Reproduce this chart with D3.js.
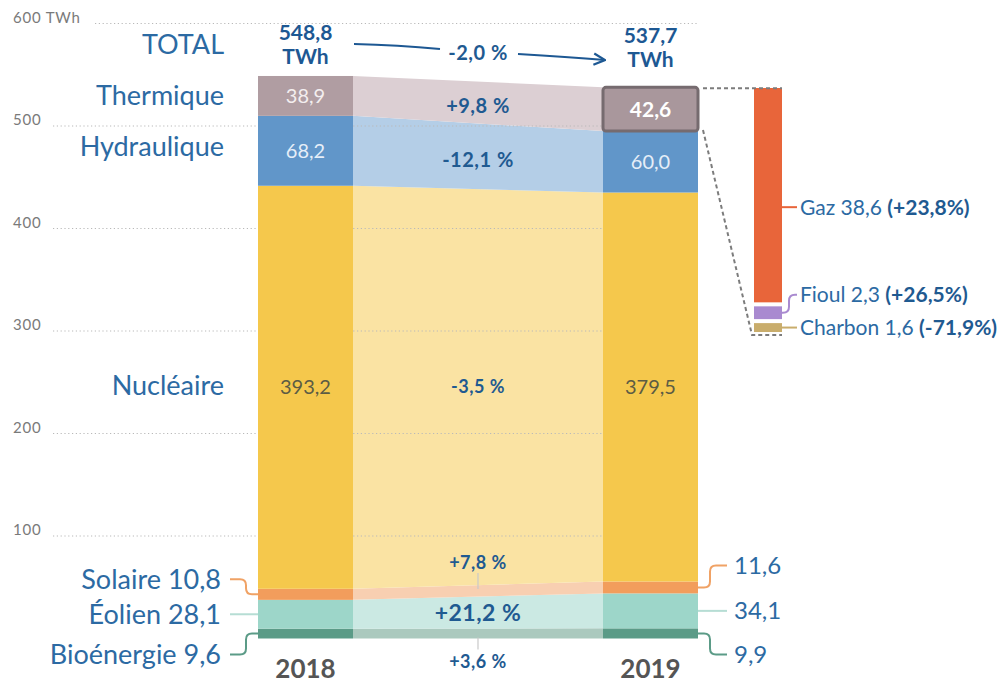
<!DOCTYPE html>
<html>
<head>
<meta charset="utf-8">
<script src="https://d3js.org/d3.v7.min.js"></script>
<style>
body { margin: 0; background: #fff; }
svg { font-family: Lato, "Open Sans", sans-serif; }
.grid line { stroke: #b9b9b9; stroke-width: 1.2; stroke-dasharray: 1.2,2.6; }
.tick-label { fill: #7a7a7a; font-size: 15px; letter-spacing: 0.8px; }
.cat { fill: #2c6aa3; font-size: 27px; }
.pct { fill: #1f5a91; font-weight: bold; font-size: 20px; letter-spacing: 0.5px; }
.tot { fill: #1d5893; font-weight: bold; font-size: 21px; }
.yr { fill: #555; font-weight: bold; font-size: 26px; }
.sub { fill: #2c6aa3; font-size: 21px; }
</style>
</head>
<body>
<svg width="1007" height="685"></svg>
<script>
// data
var years = ["2018", "2019"];
var sources = ["Bioénergie", "Éolien", "Solaire", "Nucléaire", "Hydraulique", "Thermique"];
var values2018 = [9.6, 28.1, 10.8, 393.2, 68.2, 38.9];
var values2019 = [9.9, 34.1, 11.6, 379.5, 60.0, 42.6];
var changes = ["+3,6 %", "+21,2 %", "+7,8 %", "-3,5 %", "-12,1 %", "+9,8 %"];
var totals = [548.8, 537.7];
var totalChange = "-2,0 %";
var yTicks = [100, 200, 300, 400, 500, 600];
var thermalParts = ["Charbon", "Fioul", "Gaz"];
var thermalValues = [1.6, 2.3, 38.6];
var thermalChanges = ["-71,9%", "+26,5%", "+23,8%"];

var barColor = {"Bioénergie": "#5b9b87", "Éolien": "#9dd6c9", "Solaire": "#f29d5c", "Nucléaire": "#f5c84c", "Hydraulique": "#6196c9", "Thermique": "#b09da2"};
var bandColor = {"Bioénergie": "#abc9be", "Éolien": "#cbe9e3", "Solaire": "#f8cfb1", "Nucléaire": "#fae3a3", "Hydraulique": "#b4cee7", "Thermique": "#dccfd3"};
var partColor = {"Gaz": "#e8653a", "Fioul": "#a98ad0", "Charbon": "#c9ad6c"};

var fr = d3.formatLocale({decimal: ",", thousands: "\u00a0", grouping: [3], currency: ["", ""]});
var f1 = fr.format(".1f");

var svg = d3.select("svg");
var y = d3.scaleLinear().domain([0, 600]).range([638.5, 23.5]);
var x = d3.scalePoint().domain(years).range([305.5, 650.5]);
var barW = 95;

var table = years.map(function(yr, i) {
  var o = {year: yr};
  sources.forEach(function(s, j) { o[s] = (i ? values2019 : values2018)[j]; });
  return o;
});
var series = d3.stack().keys(sources)(table);

// bands between the bars
var xa = x("2018") + barW / 2, xb = x("2019") - barW / 2;
var area = d3.area().x(function(d) { return d.x; }).y0(function(d) { return y(d.v[0]); }).y1(function(d) { return y(d.v[1]); });
svg.append("g").selectAll("path").data(series).enter().append("path")
  .attr("d", function(s) { return area([{x: xa, v: s[0]}, {x: xb, v: s[1]}]); })
  .attr("fill", function(s) { return bandColor[s.key]; });

// grid
var grid = svg.append("g").attr("class", "grid");
grid.selectAll("line").data(yTicks).enter().append("line")
  .attr("x1", function(d) { return d == 600 ? 95 : 53; }).attr("x2", 698)
  .attr("y1", function(d) { return y(d); }).attr("y2", function(d) { return y(d); });
svg.append("g").selectAll("text").data(yTicks).enter().append("text")
  .attr("class", "tick-label").attr("x", 13).attr("y", function(d) { return y(d) - 1; })
  .text(function(d) { return d == 600 ? "600 TWh" : d; });

// bars
var bars = svg.append("g");
series.forEach(function(s) {
  bars.selectAll(null).data(s).enter().append("rect")
    .attr("x", function(d) { return x(d.data.year) - barW / 2; })
    .attr("width", barW)
    .attr("y", function(d) { return y(d[1]); })
    .attr("height", function(d) { return y(d[0]) - y(d[1]); })
    .attr("fill", barColor[s.key]);
});
// highlighted thermique 2019
var th = series[5][1];
svg.append("rect")
  .attr("x", x("2019") - barW / 2).attr("width", barW)
  .attr("y", y(th[1])).attr("height", y(th[0]) - y(th[1]))
  .attr("rx", 3).attr("fill", "#a9979c").attr("stroke", "#766b6f").attr("stroke-width", 3);

// values inside bars
var valColor = {"Thermique": "#f3eeef", "Hydraulique": "#e6eef8", "Nucléaire": "#5c5c44"};
["Nucléaire", "Hydraulique", "Thermique"].forEach(function(k) {
  var s = series[sources.indexOf(k)];
  s.forEach(function(d, i) {
    var big = (k == "Thermique" && i == 1);
    svg.append("text")
      .attr("x", x(d.data.year)).attr("y", y((d[0] + d[1]) / 2)).attr("dy", "0.35em")
      .attr("text-anchor", "middle")
      .style("font-size", big ? "21px" : "20px").style("font-weight", big ? "bold" : "normal")
      .style("fill", big ? "#fff" : valColor[k])
      .text(f1(d.data[k]));
  });
});

// band percent labels
var xm = (xa + xb) / 2;
var pctSize = {"Bioénergie": 18, "Éolien": 23, "Solaire": 18, "Nucléaire": 18, "Hydraulique": 20, "Thermique": 20};
var pctOff = {"Bioénergie": 28, "Éolien": 0, "Solaire": -28, "Nucléaire": 0, "Hydraulique": 4, "Thermique": 3};
series.forEach(function(s, j) {
  var m = (y((s[0][0] + s[0][1]) / 2) + y((s[1][0] + s[1][1]) / 2)) / 2;
  var off = pctOff[s.key];
  svg.append("text").attr("class", "pct")
    .attr("x", xm).attr("y", m + off).attr("dy", "0.35em").attr("text-anchor", "middle")
    .style("font-size", pctSize[s.key] + "px").text(changes[j]);
  if (Math.abs(off) > 10) {
    svg.append("line").attr("x1", xm).attr("x2", xm)
      .attr("y1", off < 0 ? m + off + 10 : m + 4).attr("y2", off < 0 ? m - 2 : m + off - 12)
      .attr("stroke", "#c9c9c9").attr("stroke-width", 1.2);
  }
});

// left category labels
function mid(k, i) { var d = series[sources.indexOf(k)][i]; return y((d[0] + d[1]) / 2); }
var leftX = 224;
var catOff = {"Thermique": 0, "Hydraulique": -4, "Nucléaire": -2};
["Thermique", "Hydraulique", "Nucléaire"].forEach(function(k) {
  svg.append("text").attr("class", "cat").attr("x", leftX).attr("y", mid(k, 0) + catOff[k]).attr("dy", "0.35em")
    .attr("text-anchor", "end").text(k);
});
svg.append("text").attr("class", "cat").attr("x", leftX).attr("y", 45).attr("dy", "0.35em")
  .attr("text-anchor", "end").text("TOTAL");

var lowOff = {"Solaire": -15, "Éolien": 0, "Bioénergie": 21};
var leaderCol = {"Solaire": "#f0a265", "Éolien": "#b6ddd4", "Bioénergie": "#5b9b87"};
function leader(x0, y0, x1, y1, xc) {
  if (Math.abs(y1 - y0) < 2) return "M" + x0 + "," + y0 + "H" + x1;
  var s = y1 > y0 ? 1 : -1;
  return "M" + x0 + "," + y0 + "H" + (xc - 6) + "Q" + xc + "," + y0 + " " + xc + "," + (y0 + 6 * s) +
    "V" + (y1 - 6 * s) + "Q" + xc + "," + y1 + " " + (xc + 6) + "," + y1 + "H" + x1;
}
["Solaire", "Éolien", "Bioénergie"].forEach(function(k) {
  var j = sources.indexOf(k);
  var m0 = mid(k, 0), ly = m0 + lowOff[k];
  svg.append("text").attr("class", "cat")
    .attr("x", 221).attr("y", ly).attr("dy", "0.35em").attr("text-anchor", "end")
    .text(k + " " + f1(values2018[j]));
  svg.append("path").attr("d", leader(230, ly, x("2018") - barW / 2, m0, 246))
    .attr("fill", "none").attr("stroke", leaderCol[k]).attr("stroke-width", 2);
  var m1 = mid(k, 1);
  var ry = m1 + (k == "Solaire" ? -22 : k == "Bioénergie" ? 21 : 0);
  svg.append("path").attr("d", leader(x("2019") + barW / 2, m1, 727, ry, 710))
    .attr("fill", "none").attr("stroke", leaderCol[k]).attr("stroke-width", 2);
  svg.append("text").attr("class", "cat").style("font-size", "24px")
    .attr("x", 734).attr("y", ry).attr("dy", "0.35em").text(f1(values2019[j]));
});

// totals
totals.forEach(function(t, i) {
  var yr = years[i];
  var g = svg.append("text").attr("class", "tot").attr("text-anchor", "middle");
  g.append("tspan").attr("x", x(yr)).attr("y", 40 + i * 3).text(f1(t));
  g.append("tspan").attr("x", x(yr)).attr("y", 64 + i * 3).text("TWh");
});
svg.append("defs").append("marker").attr("id", "arr").attr("viewBox", "0 0 10 10")
  .attr("refX", 9).attr("refY", 5).attr("markerWidth", 7).attr("markerHeight", 7).attr("orient", "auto")
  .append("path").attr("d", "M1,1 L9,5 L1,9").attr("fill", "none").attr("stroke", "#1d5893").attr("stroke-width", 1.6);
svg.append("path").attr("d", "M" + (xa + 1) + ",44 Q" + (xa + 45) + ",45 " + (xm - 38) + ",49")
  .attr("fill", "none").attr("stroke", "#1d5893").attr("stroke-width", 2);
svg.append("path").attr("d", "M" + (xm + 40) + ",54 Q" + (xm + 90) + ",57 " + (xb + 2) + ",60")
  .attr("fill", "none").attr("stroke", "#1d5893").attr("stroke-width", 2).attr("marker-end", "url(#arr)");
svg.append("text").attr("class", "pct")
  .attr("x", xm).attr("y", 53).attr("dy", "0.35em").attr("text-anchor", "middle").text(totalChange);

// year labels
svg.append("g").selectAll("text").data(years).enter().append("text").attr("class", "yr")
  .attr("x", function(d) { return x(d); }).attr("y", 678).attr("text-anchor", "middle").text(function(d) { return d; });

// thermique breakdown
var tx0 = 754, tw = 28, gap = 4;
var yT = d3.scaleLinear().domain([0, d3.sum(thermalValues)]).range([332, 96]);
var cum = 0;
var parts = thermalParts.map(function(p, i) {
  var o = {name: p, v: thermalValues[i], ch: thermalChanges[i], top: yT(cum + thermalValues[i]) - gap * i, bot: yT(cum) - gap * i};
  cum += thermalValues[i];
  return o;
});
svg.append("g").selectAll("rect").data(parts).enter().append("rect")
  .attr("x", tx0).attr("width", tw)
  .attr("y", function(d) { return d.top; }).attr("height", function(d) { return d.bot - d.top; })
  .attr("fill", function(d) { return partColor[d.name]; });

var thTop = y(th[1]), thBot = y(th[0]), bx = x("2019") + barW / 2 + 5;
var dash = svg.append("g").attr("fill", "none").attr("stroke", "#7c7c7c").attr("stroke-width", 2).attr("stroke-dasharray", "4,3");
dash.append("path").attr("d", "M" + bx + "," + (thTop + 1) + "H" + (tx0 + tw));
dash.append("path").attr("d", "M" + bx + "," + (thBot - 1) + "L" + (tx0 - 2) + "," + (yT(0) + 3) + "H" + (tx0 + tw));

var subY = {"Gaz": 12, "Fioul": -18, "Charbon": 0};
parts.forEach(function(p) {
  var m = (p.top + p.bot) / 2, ly = m + subY[p.name];
  svg.append("path").attr("d", leader(tx0 + tw, p.name == "Gaz" ? ly : m, 797, ly, 789))
    .attr("fill", "none").attr("stroke", partColor[p.name]).attr("stroke-width", 2);
  var t = svg.append("text").attr("class", "sub").attr("x", 800).attr("y", ly).attr("dy", "0.35em");
  t.append("tspan").text(p.name + " " + f1(p.v) + " ");
  t.append("tspan").style("font-weight", "bold").style("fill", "#1f5a91").text("(" + p.ch + ")");
});
</script>
</body>
</html>
